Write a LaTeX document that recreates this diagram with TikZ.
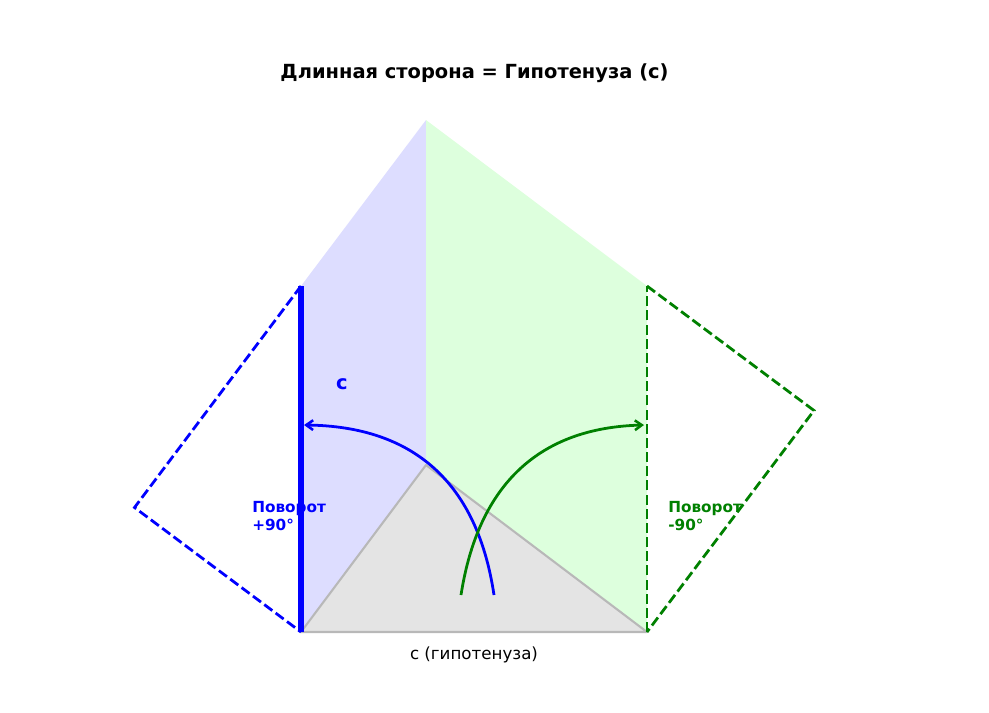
\documentclass[tikz,border=0pt]{standalone}
\usepackage{fontspec}
\setmainfont{DejaVu Sans}
\usetikzlibrary{arrows.meta}
\definecolor{mplgreen}{RGB}{0,128,0}
\definecolor{bfill}{RGB}{221,221,255}
\definecolor{gfill}{RGB}{221,255,221}
\definecolor{tfill}{RGB}{228,228,228}
\definecolor{tedge}{RGB}{184,184,184}
\tikzset{
  dashline/.style={line width=2pt, dash pattern=on 7.2pt off 3pt},
  arcline/.style={line width=2pt, -{Straight Barb[length=5pt,width=7pt,line width=1.8pt]}},
  lbl/.style={inner sep=0pt, font=\fontsize{11}{13}\selectfont\bfseries, align=left, anchor=west},
}
\begin{document}
\begin{tikzpicture}[x=0.72pt, y=-0.72pt]
\useasboundingbox (0,0) rectangle (989,712);
% points
\coordinate (A) at (301,632);
\coordinate (B) at (647,632);
\coordinate (C) at (426,465);
\coordinate (Bp) at (301,286);
\coordinate (Cp) at (134.5,507.5);
\coordinate (Ap) at (647,286);
\coordinate (Cpp) at (814,410.5);
\coordinate (T) at (426,120);
% fills
\fill[bfill] (A) -- (Bp) -- (T) -- (C) -- cycle;
\fill[gfill] (B) -- (Ap) -- (T) -- (C) -- cycle;
\filldraw[fill=tfill, draw=tedge, line width=1.5pt, line join=round] (A) -- (B) -- (C) -- cycle;
% rotated triangles
\draw[blue, dashline] (Bp) -- (Cp) -- (A);
\draw[blue, line width=4pt] (A) -- (Bp);
\draw[mplgreen, dashline] (Ap) -- (Cpp) -- (B);
\draw[mplgreen, dashline] (B) -- (Ap);
% arcs
\coordinate (bs) at (494,595);
\coordinate (be) at (304,425);
\coordinate (gs) at (461,595);
\coordinate (ge) at (644,425);
\draw[blue, arcline] (bs) .. controls (477.3,483) and (414,426.3) .. (be);
\draw[mplgreen, arcline] (gs) .. controls (478.3,484.3) and (539.3,427.7) .. (ge);
% labels
\node[font=\fontsize{14}{16}\selectfont\bfseries] (title) at (474.5,73) {Длинная сторона = Гипотенуза (c)};
\node[font=\fontsize{12}{14}\selectfont] (base) at (474,655) {c (гипотенуза)};
\node[blue, font=\fontsize{14}{16}\selectfont\bfseries] (clbl) at (342,384) {c};
\node[blue, lbl] (rl) at (252,516) {Поворот\\+90°};
\node[mplgreen, lbl] (rr) at (668,516) {Поворот\\-90°};
\end{tikzpicture}
\end{document}
